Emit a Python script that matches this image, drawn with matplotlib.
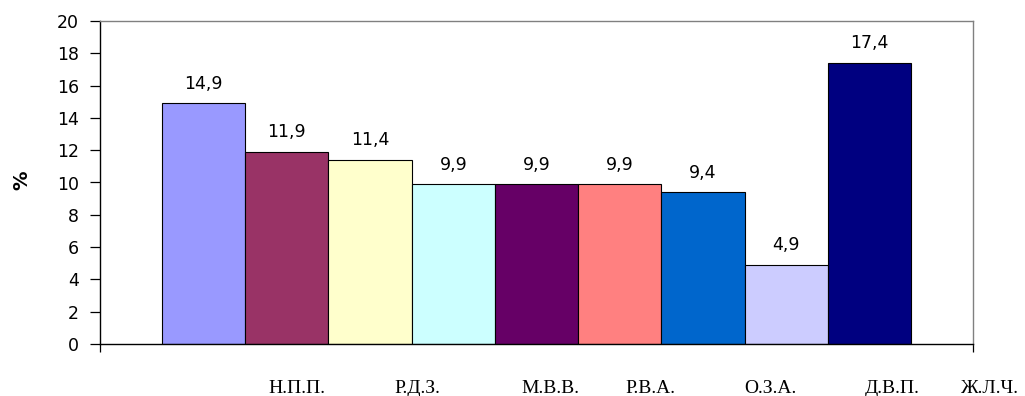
import matplotlib
matplotlib.use("Agg")
import matplotlib.pyplot as plt
import numpy as np

# DATA #
values = [14.9, 11.9, 11.4, 9.9, 9.9, 9.9, 9.4, 4.9, 17.4]
colors = ["#9999FF", "#993366", "#FFFFCC", "#CCFFFF", "#660066",
          "#FF8080", "#0066CC", "#CCCCFF", "#000080"]
names = ["Н.П.П.", "Р.Д.З.", "М.В.В.", "Р.В.А.", "О.З.А.", "Д.В.П.", "Ж.Л.Ч."]
y_ticks = list(range(0, 21, 2))
# END OF DATA #

# loose name captions under the chart (pixel centres across the figure)
name_x_px = [297, 417, 550, 650, 770, 892, 990]

W, H = 1025, 396
fig = plt.figure(figsize=(W / 100, H / 100), dpi=100)
ax = fig.add_axes([100 / W, 1 - 344 / H, 873 / W, 323 / H])

x = np.arange(len(values))
ax.bar(x, values, width=1.0, color=colors, edgecolor="black", linewidth=0.8, zorder=2)

for xi, v in zip(x, values):
    ax.annotate(f"{v:.1f}".replace(".", ","), (xi, v), xytext=(0, 10.5),
                textcoords="offset points", ha="center", va="baseline",
                fontsize=12.5, family="DejaVu Sans")

ax.set_xlim(-1.245, len(values) - 1 + 1.245)
ax.set_ylim(0, 20)
ax.set_yticks(y_ticks)
ax.set_yticklabels([str(t) for t in y_ticks], fontsize=12.5, family="DejaVu Sans")
ax.tick_params(axis="y", direction="out", length=7, width=0.9, pad=8)
ax.set_xticks(ax.get_xlim())
ax.set_xticklabels(["", ""])
ax.tick_params(axis="x", direction="out", length=6, width=0.9)

ax.spines["left"].set_color("black")
ax.spines["bottom"].set_color("black")
ax.spines["left"].set_linewidth(1.0)
ax.spines["bottom"].set_linewidth(1.0)
for s in ("top", "right"):
    ax.spines[s].set_color("#808080")
    ax.spines[s].set_linewidth(1.0)

fig.text(22 / W, 1 - 180 / H, "%", rotation=90, ha="center", va="center",
         fontsize=14, fontweight="bold", family="DejaVu Sans")

for nm, px in zip(names, name_x_px):
    fig.text(px / W, 1 - 393 / H, nm, ha="center", va="baseline",
             fontsize=14, family="Liberation Serif")

fig.savefig("out.png", dpi=100)
